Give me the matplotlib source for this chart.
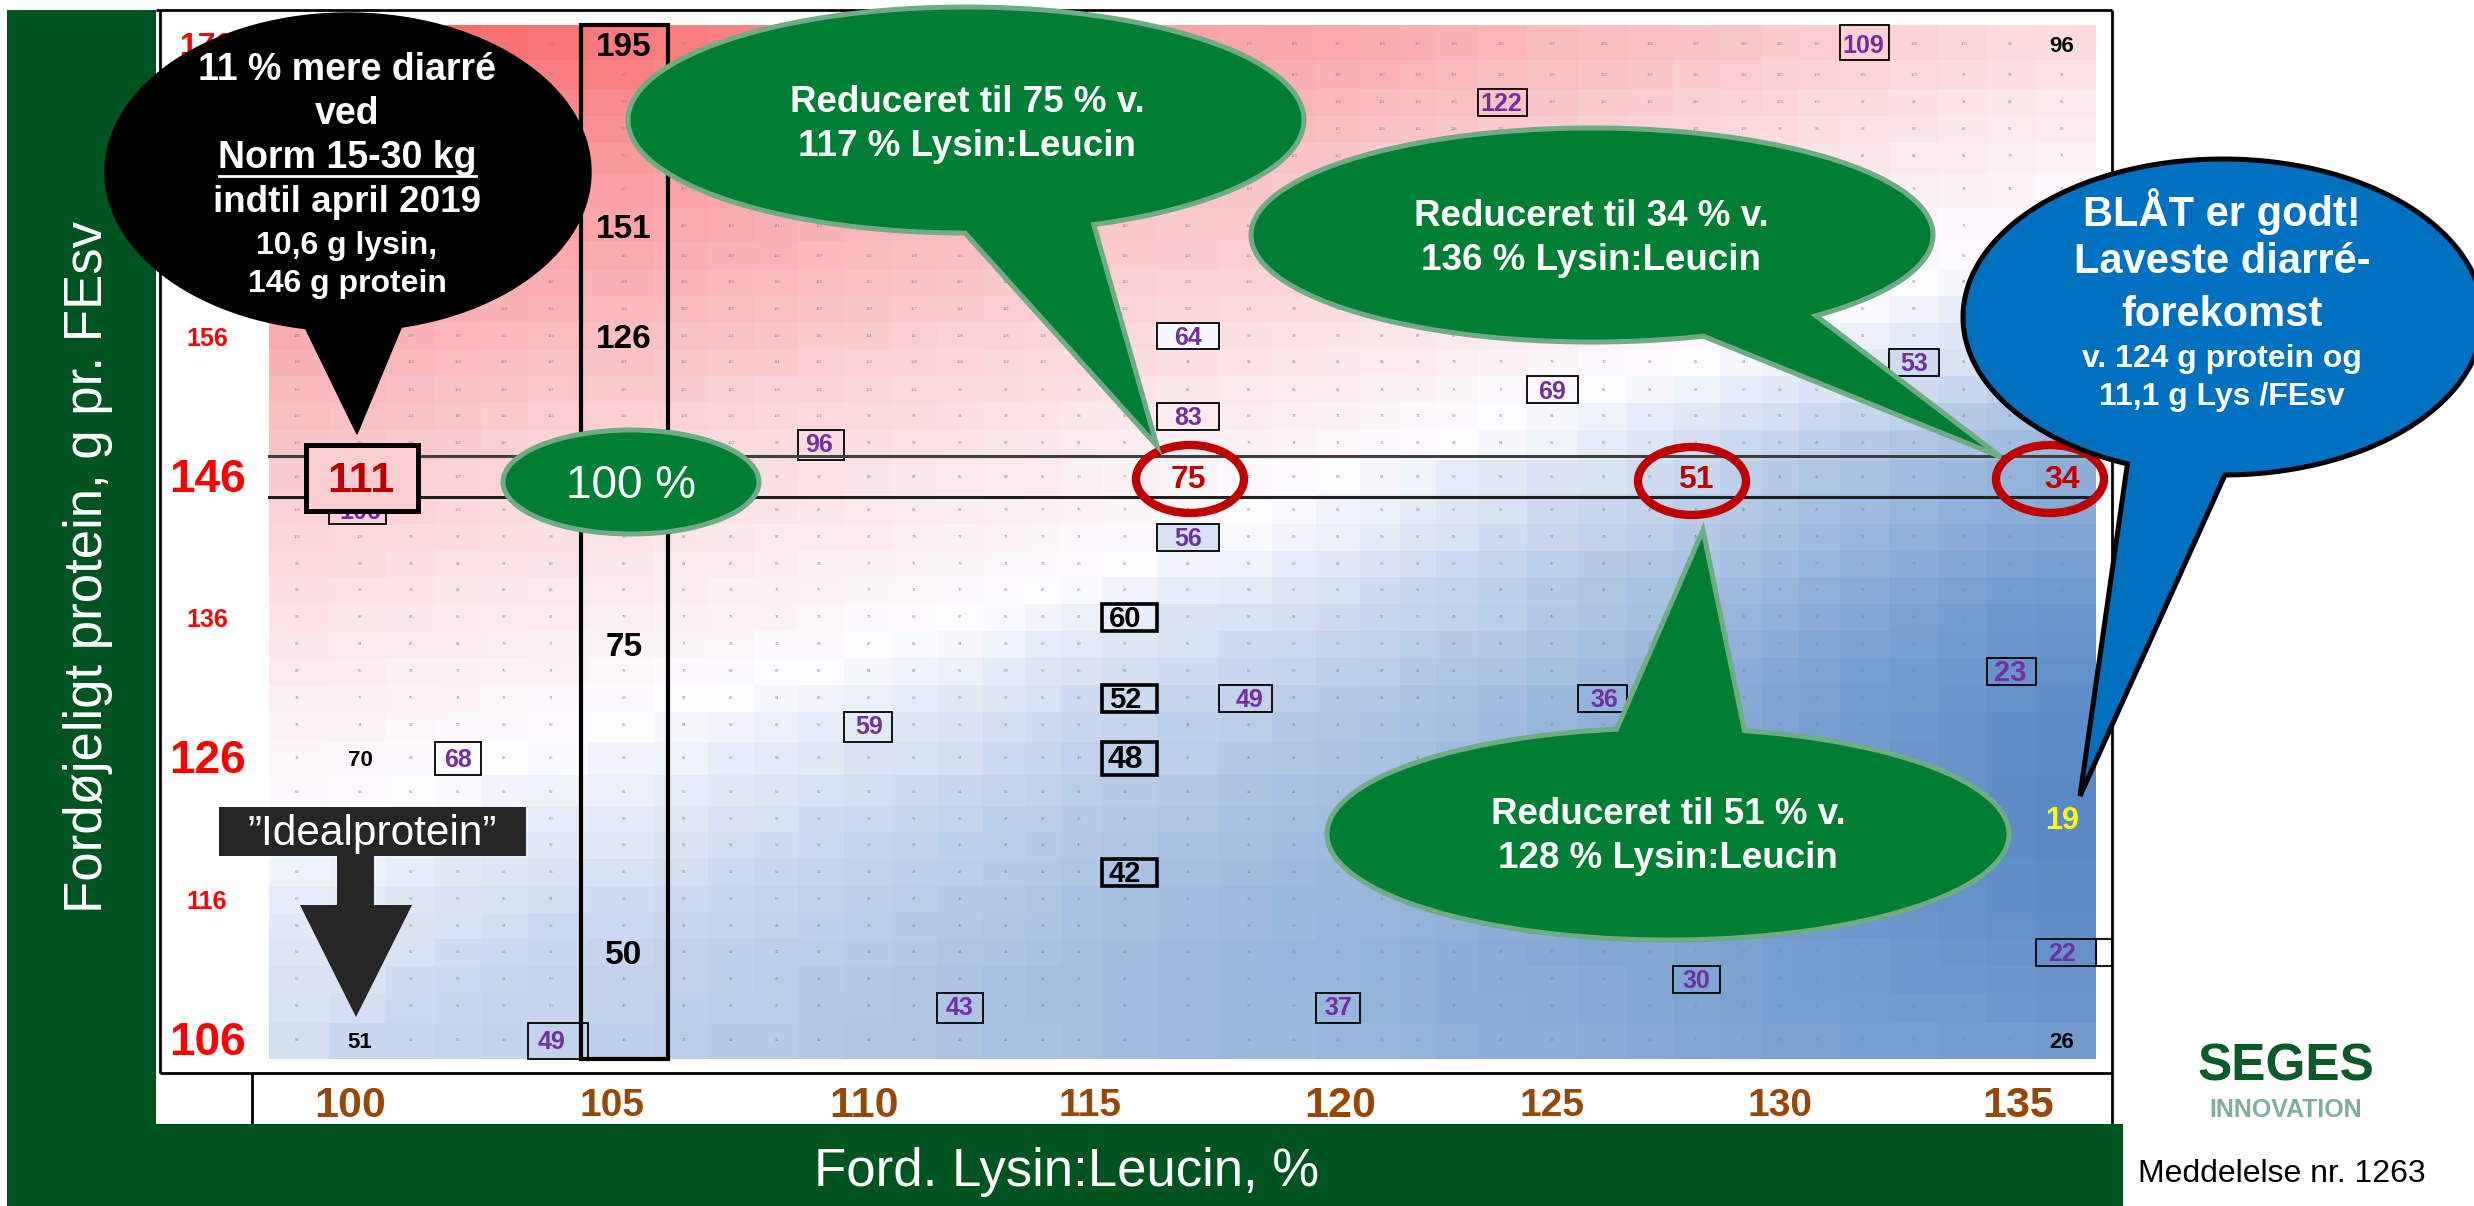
import numpy as np
import matplotlib
matplotlib.use("Agg")
import matplotlib.pyplot as plt
from matplotlib.colors import LinearSegmentedColormap, TwoSlopeNorm
from matplotlib.patches import Ellipse, Polygon, Rectangle

plt.rcParams['font.family'] = ['Liberation Sans', 'DejaVu Sans']

# data
lysine = list(range(99, 137))
protein = list(range(176, 104, -2))
diarre = [
    [222,218,213,208,204,199,195,191,187,183,179,175,172,168,165,161,158,156,153,150,149,147,144,141,138,135,131,128,125,122,118,115,112,109,106,103,99,96],
    [213,209,204,200,196,191,187,183,179,175,172,168,165,161,158,155,152,149,147,144,143,140,137,134,131,128,125,122,119,115,112,110,108,105,100,97,94,91],
    [204,200,196,192,187,183,179,175,172,168,165,161,158,155,152,149,146,143,141,139,136,134,131,128,125,122,119,116,113,110,107,104,100,97,94,91,88,85],
    [196,192,188,184,179,175,171,168,164,161,157,154,151,148,145,142,139,136,134,132,130,127,124,121,118,115,113,110,107,105,101,98,95,92,89,86,83,80],
    [187,184,180,176,171,167,163,160,156,153,150,147,144,141,138,135,132,130,127,125,123,120,117,114,112,109,107,104,101,99,96,93,90,87,84,81,79,75],
    [180,176,172,169,165,161,157,153,150,147,144,141,138,135,132,129,126,124,122,119,117,114,112,109,107,104,102,99,97,94,91,88,85,82,79,76,74,71],
    [172,169,166,162,158,154,151,147,144,141,138,135,132,129,126,123,121,118,116,114,112,109,107,104,102,99,97,94,92,89,86,83,80,77,74,71,70,67],
    [165,162,158,155,151,148,145,142,139,137,133,131,128,126,123,120,118,115,113,111,109,106,104,101,99,96,94,91,89,85,82,79,76,73,71,68,66,63],
    [158,155,151,148,145,142,139,136,133,130,128,125,123,120,118,115,113,110,108,106,104,101,99,96,94,91,89,87,84,80,77,74,72,69,67,64,62,59],
    [151,148,145,142,139,136,133,130,127,125,122,119,117,114,112,110,107,105,103,101,99,96,94,92,89,87,84,82,79,75,73,70,68,65,63,60,58,55],
    [144,141,138,135,132,129,126,124,121,119,116,114,111,108,106,104,102,100,64,93,92,90,88,87,85,82,80,77,74,70,68,66,64,61,59,57,54,52],
    [138,135,132,129,126,123,121,118,116,114,111,109,106,104,102,100,98,96,94,91,88,86,84,82,79,76,73,70,68,66,64,62,60,58,53,55,52,48],
    [132,129,126,123,120,117,115,113,110,108,106,103,101,99,97,95,93,91,88,85,83,81,78,76,73,71,69,66,64,62,60,58,56,55,53,51,48,45],
    [127,124,121,118,115,112,110,108,105,103,101,99,96,94,92,90,88,86,83,80,78,76,73,71,69,67,64,62,60,58,56,54,52,50,48,46,44,42],
    [122,119,116,113,110,107,105,103,100,98,96,94,92,90,88,86,84,81,79,76,74,72,70,68,66,64,62,60,57,54,52,50,48,46,44,42,40,38],
    [113,111,109,107,105,102,100,98,96,94,92,89,87,85,83,81,79,77,75,70,68,66,64,62,60,58,56,55,53,51,48,46,44,42,40,38,36,34],
    [108,106,104,102,99,97,95,93,91,89,87,85,83,81,79,77,75,73,71,67,65,63,61,59,57,55,53,51,49,47,45,43,41,39,37,35,34,32],
    [103,101,99,97,95,93,90,88,86,84,82,81,79,77,75,73,71,69,56,65,63,61,59,57,55,53,51,49,47,45,43,41,39,37,35,33,31,30],
    [98,96,94,92,91,89,86,84,82,80,78,77,75,73,71,70,68,66,63,62,60,58,56,54,52,50,48,46,44,43,41,39,37,35,33,31,29,28],
    [94,92,90,88,86,85,82,80,78,76,75,73,72,70,68,67,65,63,60,59,57,55,53,51,50,48,46,44,42,41,39,37,35,33,31,29,27,26],
    [90,88,86,85,83,81,79,77,75,74,72,70,68,67,65,63,61,60,56,55,54,53,51,50,49,47,45,43,41,39,37,35,33,31,29,27,25,24],
    [86,84,82,81,79,77,75,73,72,70,69,67,65,64,62,60,59,57,55,53,52,50,49,47,46,45,43,41,39,37,35,33,31,29,28,26,24,23],
    [82,80,78,77,75,74,72,70,69,67,66,64,62,61,59,57,56,54,53,51,50,48,47,46,44,43,41,39,37,35,33,31,30,28,26,25,23,22],
    [78,77,75,74,72,71,69,67,66,64,63,61,60,58,57,55,53,52,50,49,47,46,45,43,42,40,38,36,35,34,32,30,29,27,26,24,22,21],
    [75,74,72,70,69,68,66,64,63,61,60,59,57,56,54,53,51,50,48,47,45,44,43,42,41,39,37,35,34,33,31,30,28,26,25,23,21,20],
    [72,70,69,68,66,65,63,62,60,59,58,56,55,54,52,51,49,48,47,45,44,43,42,41,39,38,36,35,33,32,30,29,27,26,24,23,21,20],
    [69,68,66,65,63,62,61,60,58,57,55,54,53,51,50,49,47,46,45,43,42,41,40,39,38,37,35,34,32,31,30,28,27,25,24,22,20,19],
    [66,65,64,62,61,60,59,58,56,55,53,52,51,50,48,47,46,45,44,42,41,40,39,38,37,36,35,33,32,30,29,27,26,25,23,22,20,19],
    [64,63,62,60,59,58,58,56,54,53,52,50,49,48,47,46,45,44,42,41,40,39,38,37,36,35,34,33,31,30,28,27,26,24,23,21,20,19],
    [62,61,60,58,57,56,55,54,52,51,50,49,48,47,46,45,44,42,41,40,39,38,37,37,36,35,34,32,31,29,28,27,25,24,23,22,21,20],
    [60,59,57,56,55,54,53,52,51,50,49,48,47,46,45,44,42,41,40,39,38,38,37,36,35,34,33,32,30,29,28,27,25,24,23,22,21,20],
    [58,57,56,55,54,52,52,51,50,49,48,47,46,45,44,43,42,41,40,39,38,37,37,36,35,34,33,31,30,29,28,27,26,25,24,23,22,21],
    [57,56,55,53,52,51,50,49,48,47,47,46,45,44,43,42,41,40,39,38,37,37,36,35,34,33,32,31,31,30,29,28,27,26,25,24,23,22],
    [56,55,53,52,51,50,49,49,48,47,46,45,44,43,42,41,41,40,39,38,37,37,36,35,34,33,33,32,31,30,29,28,27,26,25,25,24,23],
    [55,54,52,51,50,50,49,48,47,47,45,45,44,43,42,41,41,40,39,38,38,37,36,35,34,34,33,32,31,30,29,28,28,27,26,26,25,24],
    [54,51,51,50,49,49,48,47,46,46,45,44,44,43,42,42,41,40,39,38,38,37,37,36,35,34,34,33,32,31,30,29,29,28,28,27,27,26],
]

# cells picked out in the table
trial_cells = [(132,176),(124,172),(117,156),(117,150),(117,142),(109,148),(125,152),(133,154),
               (135,132),(136,112),(128,110),(120,108),(112,108),(118,130),(126,130),(110,128),
               (102,126),(104,106),(100,144)]
norm_cells = [(116,136),(116,130),(116,126),(116,118)]
plain_cells = [(100,126),(100,106),(136,176),(136,106)]
row146_cells = [(117,146),(128,146),(136,146)]
col105_rows = [176,164,156,134,112]

x_labels = [100,105,110,115,120,125,130,135]
y_labels = [176,156,146,136,126,116,106]

# layout of the sheet in pixels (columns and rows are not evenly wide)
col_mid = [297,360,411,458,504,551,624,684,731,777,819,869,914,960,1006,1043,1079,1125,1188,1249,
           1294,1338,1382,1418,1454,1501,1552,1604,1650,1696,1744,1780,1817,1863,1914,1964,2010,2062]
row_mid = [44,75,102,129,156,189,226,256,282,309,336,362,390,416,443,477,510,537,564,590,
           617,644,671,698,725,758,792,819,845,872,899,926,952,979,1006,1040]

col_edges = np.r_[269, (np.array(col_mid[:-1]) + np.array(col_mid[1:])) / 2, 2096]
row_edges = np.r_[25, (np.array(row_mid[:-1]) + np.array(row_mid[1:])) / 2, 1059]

values = np.array(diarre)
cell_x = dict(zip(lysine, col_mid))
cell_y = dict(zip(protein, row_mid))

DARK_GREEN = "#00541F"
GREEN = "#007E33"
GREEN_EDGE = "#6FAB85"
PURPLE = "#7030A0"
BROWN = "#984806"
DARK_RED = "#C00000"


def val(lys, prot):
    return values[protein.index(prot), lysine.index(lys)]


def cell_box(lys, prot, lw, zorder=4):
    i = lysine.index(lys)
    j = protein.index(prot)
    ax.add_patch(Rectangle((col_edges[i], row_edges[j]), col_edges[i + 1] - col_edges[i],
                           row_edges[j + 1] - row_edges[j], fill=False, ec="black", lw=lw, zorder=zorder))


def bubble(cx, cy, rx, ry, base1, base2, tip, fc, ec, lw, zorder):
    # ellipse outline the long way round between the tail feet, then out to the tip
    a1 = np.arctan2((base1[1] - cy) / ry, (base1[0] - cx) / rx)
    a2 = np.arctan2((base2[1] - cy) / ry, (base2[0] - cx) / rx)
    if a2 < a1:
        a2 += 2 * np.pi
    if a2 - a1 < np.pi:
        a1 += 2 * np.pi
    t = np.linspace(a1, a2, 240)
    pts = np.c_[cx + rx * np.cos(t), cy + ry * np.sin(t)]
    pts = np.vstack([pts, tip])
    ax.add_patch(Polygon(pts, closed=True, fc=fc, ec=ec, lw=lw, joinstyle="miter", zorder=zorder))


fig = plt.figure(figsize=(24.74, 12.06), dpi=100)
ax = fig.add_axes([0, 0, 1, 1])
ax.set_xlim(0, 2474)
ax.set_ylim(1206, 0)
ax.axis("off")

# Excel red-white-blue colour scale
cmap = LinearSegmentedColormap.from_list("rwb", ["#5A8AC6", "#FCFCFF", "#F8696B"])
norm = TwoSlopeNorm(vmin=19, vcenter=66, vmax=212)
ax.pcolormesh(col_edges, row_edges, values, cmap=cmap, norm=norm, zorder=1)

picked = set(trial_cells + norm_cells + plain_cells + row146_cells + [(100, 146), (136, 122)]
             + [(105, r) for r in col105_rows])
for lys in lysine:
    for prot in protein:
        if (lys, prot) not in picked:
            ax.text(cell_x[lys], cell_y[prot], str(val(lys, prot)), fontsize=3, color="#8a8a8a",
                    ha="center", va="center", zorder=2)

for lys, prot in trial_cells:
    size = 21 if (lys, prot) == (135, 132) else 18
    ax.text(cell_x[lys], cell_y[prot] + 2, str(val(lys, prot)), fontsize=size, color=PURPLE,
            fontweight="bold", ha="center", va="center", zorder=3)
    cell_box(lys, prot, 1.3)
ax.add_patch(Rectangle((col_edges[-1], row_edges[protein.index(112)]), 16,
                       row_edges[protein.index(112) + 1] - row_edges[protein.index(112)],
                       fill=False, ec="black", lw=1.3, zorder=4))

for lys, prot in norm_cells:
    ax.text(cell_x[lys], cell_y[prot] + 2, str(val(lys, prot)), fontsize=23 if prot == 126 else 21,
            fontweight="bold", ha="center", va="center", zorder=3)
    cell_box(lys, prot, 2.6)

for lys, prot in plain_cells:
    ax.text(cell_x[lys], cell_y[prot] + 3, str(val(lys, prot)), fontsize=16, fontweight="bold",
            ha="center", va="center", zorder=3)

ax.text(cell_x[136], cell_y[122] + 2, str(val(136, 122)), fontsize=22, color="#FFFF00", fontweight="bold",
        ha="center", va="center", zorder=3)

for prot in col105_rows:
    ax.text(cell_x[105], cell_y[prot] + 4, str(val(105, prot)), fontsize=24, fontweight="bold",
            ha="center", va="center", zorder=3)

# frame, band and the 105 column box
for xs, ys in [([160, 160], [10, 1073]), ([156, 2112], [10, 10]), ([2112, 2112], [10, 1124]),
               ([160, 2112], [1073, 1073]), ([252, 252], [1073, 1124])]:
    ax.plot(xs, ys, color="black", lw=2, solid_capstyle="butt", zorder=1.5)

for y, shade in [(456, "#404040"), (497, "#202020")]:
    ax.plot([269, 2096], [y, y], color=shade, lw=2.2, zorder=5)

ax.add_patch(Rectangle((581, 25), 87, 1034, fill=False, ec="black", lw=3, zorder=5))

ax.add_patch(Rectangle((7, 10), 149, 1196, fc=DARK_GREEN, ec="none", zorder=6))
ax.add_patch(Rectangle((7, 1124), 2116, 82, fc=DARK_GREEN, ec="none", zorder=6))
ax.text(88, 567, "Fordøjeligt protein, g pr. FEsv", rotation=90, color="white", fontsize=38,
        ha="center", va="center", zorder=7)
ax.text(1067, 1172, "Ford. Lysin:Leucin, %", color="white", fontsize=38, ha="center", va="center", zorder=7)

# axis numbers
for lab in x_labels:
    big = lab in (100, 110, 120, 135)
    off = {100: -10, 105: -12, 110: -5, 115: 11, 120: 2, 125: 0, 130: 0, 135: 8}[lab]
    ax.text(cell_x[lab] + off, 1106, str(lab), color=BROWN, fontsize=31 if big else 28, fontweight="bold",
            ha="center", va="center", zorder=3)
for lab in y_labels:
    big = lab in (146, 126, 106)
    size = 33 if big else 18
    if lab == 176:
        size = 23
    ax.text(207, cell_y[lab] + 3, str(lab), color="#FF0000", fontsize=size, fontweight="bold",
            ha="center", va="center", zorder=3)

# the 111 cell
ax.add_patch(Rectangle((306, 445), 112, 66, fc=cmap(norm(val(100, 146))), ec="black", lw=3.6, zorder=6))
ax.text(361, 481, str(val(100, 146)), color=DARK_RED, fontsize=31, fontweight="bold", ha="center",
        va="center", zorder=7)

# red rings on line 146
for (lys, prot), cx, cy in zip(row146_cells, [1190, 1692, 2050], [479, 481, 479]):
    ax.text(cell_x[lys], cell_y[prot] + 3, str(val(lys, prot)), color=DARK_RED, fontsize=23, fontweight="bold",
            ha="center", va="center", zorder=6)
    ax.add_patch(Ellipse((cx, cy), 108, 68, fill=False, ec=DARK_RED, lw=6, zorder=6))

# 100 % oval
ax.add_patch(Ellipse((631, 482), 256, 104, fc=GREEN, ec=GREEN_EDGE, lw=3.6, zorder=8))
ax.text(631, 486, "100 %", color="white", fontsize=33, ha="center", va="center", zorder=9)

# callouts
bubble(348, 172, 243, 159, (306, 327), (401, 326), (357, 434), "black", "black", 1, 8)
black_lines = [("11 % mere diarré", 70, 27), ("ved", 114, 27), ("Norm 15-30 kg", 158, 27),
               ("indtil april 2019", 203, 26.5), ("10,6 g lysin,", 246, 23), ("146 g protein", 284, 23)]
for txt, y, size in black_lines:
    ax.text(347, y, txt, color="white", fontsize=size, fontweight="bold", ha="center", va="center", zorder=9)
ax.plot([219, 476], [176, 176], color="white", lw=2, zorder=9)

bubble(966, 120, 338, 113, (965, 232), (1093, 224), (1157, 446), GREEN, GREEN_EDGE, 3.6, 8)
ax.text(967, 102, "Reduceret til 75 % v.", color="white", fontsize=26.5, fontweight="bold", ha="center", va="center", zorder=9)
ax.text(967, 147, "117 % Lysin:Leucin", color="white", fontsize=26.5, fontweight="bold", ha="center", va="center", zorder=9)

bubble(1592, 235, 341, 107, (1701, 334), (1814, 315), (2001, 457), GREEN, GREEN_EDGE, 3.6, 8)
ax.text(1591, 216, "Reduceret til 34 % v.", color="white", fontsize=26.5, fontweight="bold", ha="center", va="center", zorder=9)
ax.text(1591, 261, "136 % Lysin:Leucin", color="white", fontsize=26.5, fontweight="bold", ha="center", va="center", zorder=9)

bubble(1668, 834, 341, 106, (1745, 730), (1616, 728), (1703, 530), GREEN, GREEN_EDGE, 3.6, 8)
ax.text(1668, 814, "Reduceret til 51 % v.", color="white", fontsize=26.5, fontweight="bold", ha="center", va="center", zorder=9)
ax.text(1668, 859, "128 % Lysin:Leucin", color="white", fontsize=26.5, fontweight="bold", ha="center", va="center", zorder=9)

bubble(2223, 317, 260, 158, (2128, 463), (2225, 475), (2080, 796), "#0070C0", "black", 3.6, 8)
blue_lines = [("BLÅT er godt!", 212, 30), ("Laveste diarré-", 262, 30), ("forekomst", 315, 30),
              ("v. 124 g protein og", 359, 23), ("11,1 g Lys /FEsv", 397, 23)]
for txt, y, size in blue_lines:
    ax.text(2222, y, txt, color="white", fontsize=size, fontweight="bold", ha="center", va="center", zorder=9)

# idealprotein arrow
arrow_col = "#262626"
ax.add_patch(Polygon([(337, 856), (374, 856), (374, 905), (412, 905), (356, 1017), (300, 905), (337, 905)],
                     closed=True, fc=arrow_col, ec="none", zorder=8))
ax.add_patch(Rectangle((219, 807), 307, 49, fc=arrow_col, ec="none", zorder=8))
ax.text(372, 834, "”Idealprotein”", color="white", fontsize=30.5, ha="center", va="center", zorder=9)

# logo and note
ax.text(2286, 1067, "SEGES", color="#0B5A2A", fontsize=37, fontweight="bold", ha="center", va="center", zorder=3)
ax.text(2286, 1110, "INNOVATION", color="#7FB096", fontsize=18, fontweight="bold", ha="center", va="center", zorder=3)
ax.text(2138, 1174, "Meddelelse nr. 1263", color="black", fontsize=23, ha="left", va="center", zorder=3)

fig.savefig("out.png", dpi=100)
